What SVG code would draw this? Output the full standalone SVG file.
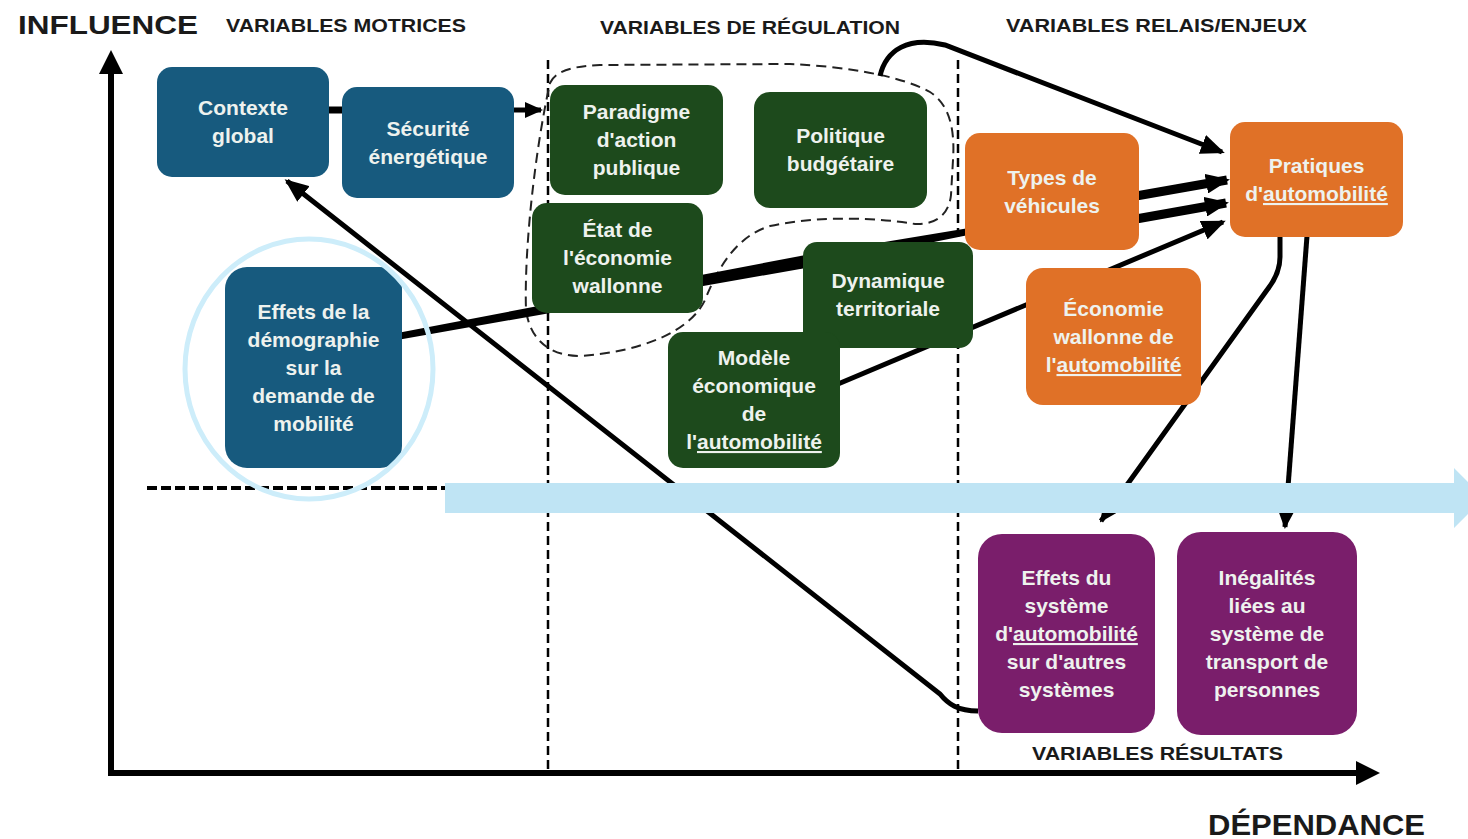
<svg xmlns="http://www.w3.org/2000/svg" width="1468" height="839" viewBox="0 0 1468 839">
<defs>
<style>
.t{font-family:"Liberation Sans",Arial,sans-serif;font-weight:bold;font-size:21px;text-anchor:middle;fill:#EEF2EE}
.h{font-family:"Liberation Sans",Arial,sans-serif;font-weight:bold;fill:#1a1a1a}
.blue{fill:#175A7E}
.green{fill:#1D4A1C}
.orange{fill:#E07127}
.purple{fill:#7A1E6B}
.ln{fill:none;stroke:#000;stroke-width:5;stroke-linecap:butt}
.sp{text-decoration:underline wavy #e04040}
</style>
<marker id="ah" markerUnits="userSpaceOnUse" markerWidth="24" markerHeight="20" refX="21" refY="10" orient="auto" viewBox="0 0 24 20">
<path d="M0,0 L24,10 L0,20 Z" fill="#000"/>
</marker>
<marker id="ahs" markerUnits="userSpaceOnUse" markerWidth="18" markerHeight="16" refX="16" refY="8" orient="auto" viewBox="0 0 18 16">
<path d="M0,0 L18,8 L0,16 Z" fill="#000"/>
</marker>
</defs>
<rect width="1468" height="839" fill="#fff"/>

<g id="axes">
<line x1="111" y1="775" x2="111" y2="70" stroke="#000" stroke-width="6"/>
<path d="M111,50 L99,74 L123,74 Z" fill="#000"/>
<line x1="108" y1="773" x2="1358" y2="773" stroke="#000" stroke-width="6"/>
<path d="M1380,773 L1356,761 L1356,785 Z" fill="#000"/>
<line x1="548" y1="60" x2="548" y2="772" stroke="#000" stroke-width="2.5" stroke-dasharray="9,5"/>
<line x1="958" y1="60" x2="958" y2="772" stroke="#000" stroke-width="2.5" stroke-dasharray="9,5"/>
<line x1="147" y1="488" x2="958" y2="488" stroke="#000" stroke-width="4" stroke-dasharray="10,4"/>
</g>

<g id="headers">
<text class="h" x="18" y="34" font-size="26" textLength="180" lengthAdjust="spacingAndGlyphs">INFLUENCE</text>
<text class="h" x="226" y="32" font-size="19" textLength="240" lengthAdjust="spacingAndGlyphs">VARIABLES MOTRICES</text>
<text class="h" x="600" y="34" font-size="19" textLength="300" lengthAdjust="spacingAndGlyphs">VARIABLES DE RÉGULATION</text>
<text class="h" x="1006" y="32" font-size="19" textLength="301" lengthAdjust="spacingAndGlyphs">VARIABLES RELAIS/ENJEUX</text>
<text class="h" x="1032" y="760" font-size="19" textLength="251" lengthAdjust="spacingAndGlyphs">VARIABLES RÉSULTATS</text>
<text class="h" x="1208" y="835" font-size="30" textLength="217" lengthAdjust="spacingAndGlyphs">DÉPENDANCE</text>
</g>

<g id="group-outline">
<path d="M550,83 C556,70 575,66 600,65 L790,64 C840,66 900,75 930,92 C950,105 955,130 953,160 L951,195 C949,215 935,225 915,224 C880,218 820,215 770,226 C740,235 720,262 705,300 C690,332 640,352 580,356 C550,356 530,340 526,310 C524,250 535,150 550,83 Z" fill="none" stroke="#222" stroke-width="2" stroke-dasharray="10,6"/>
</g>

<g id="connectors">
<line x1="326" y1="110" x2="345" y2="110" stroke="#000" stroke-width="7"/>
<line class="ln" x1="512" y1="110" x2="541" y2="110" marker-end="url(#ahs)"/>
<path class="ln" d="M880,76 C886,50 908,36 945,45 L1222,152" marker-end="url(#ah)"/>
<line x1="1136" y1="196" x2="1227" y2="180" stroke="#000" stroke-width="9" marker-end="url(#ah)"/>
<line x1="1136" y1="219" x2="1226" y2="203" stroke="#000" stroke-width="9" marker-end="url(#ah)"/>
<polygon points="400,332.5 803,255.5 966,228.5 966,235.5 803,268.5 400,339.5" fill="#000"/>
<line class="ln" x1="838" y1="384" x2="1223" y2="222" marker-end="url(#ah)"/>
<path class="ln" d="M978,711 C958,711 948,704 940,694 L287,181" marker-end="url(#ah)"/>
<path class="ln" d="M1280,236 L1280,257 C1280,270 1275,280 1267,290 L1101,521" marker-end="url(#ahs)"/>
<line class="ln" x1="1307" y1="236" x2="1285" y2="527" marker-end="url(#ahs)"/>
</g>

<g id="n-contexte"><rect class="blue" x="157" y="67" width="172" height="110" rx="15"/>
<text class="t" x="243" y="115">Contexte</text><text class="t" x="243" y="143">global</text></g>
<g id="n-securite"><rect class="blue" x="342" y="87" width="172" height="111" rx="15"/>
<text class="t" x="428" y="136">Sécurité</text><text class="t" x="428" y="164">énergétique</text></g>
<g id="n-demo"><rect class="blue" x="225" y="267" width="177" height="201" rx="22"/>
<text class="t" x="313.5" y="319">Effets de la</text><text class="t" x="313.5" y="347">démographie</text><text class="t" x="313.5" y="375">sur la</text><text class="t" x="313.5" y="403">demande de</text><text class="t" x="313.5" y="431">mobilité</text></g>

<g id="n-paradigme"><rect class="green" x="550" y="85" width="173" height="110" rx="15"/>
<text class="t" x="636.5" y="119">Paradigme</text><text class="t" x="636.5" y="147">d'action</text><text class="t" x="636.5" y="175">publique</text></g>
<g id="n-politique"><rect class="green" x="754" y="92" width="173" height="116" rx="16"/>
<text class="t" x="840.5" y="143">Politique</text><text class="t" x="840.5" y="171">budgétaire</text></g>
<g id="n-etat"><rect class="green" x="532" y="203" width="171" height="110" rx="15"/>
<text class="t" x="617.5" y="237">État de</text><text class="t" x="617.5" y="265">l'économie</text><text class="t" x="617.5" y="293">wallonne</text></g>
<g id="n-dynamique"><rect class="green" x="803" y="242" width="170" height="106" rx="14"/>
<text class="t" x="888" y="288">Dynamique</text><text class="t" x="888" y="316">territoriale</text></g>
<g id="n-modele"><rect class="green" x="668" y="332" width="172" height="136" rx="15"/>
<text class="t" x="754" y="365">Modèle</text><text class="t" x="754" y="393">économique</text><text class="t" x="754" y="421">de</text><text class="t" x="754" y="449">l'<tspan class="sp">automobilité</tspan></text></g>

<g id="n-types"><rect class="orange" x="965" y="133" width="174" height="117" rx="15"/>
<text class="t" x="1052" y="185">Types de</text><text class="t" x="1052" y="213">véhicules</text></g>
<g id="n-pratiques"><rect class="orange" x="1230" y="122" width="173" height="115" rx="15"/>
<text class="t" x="1316.5" y="173">Pratiques</text><text class="t" x="1316.5" y="201">d'<tspan class="sp">automobilité</tspan></text></g>
<g id="n-ecoauto"><rect class="orange" x="1026" y="268" width="175" height="137" rx="17"/>
<text class="t" x="1113.5" y="316">Économie</text><text class="t" x="1113.5" y="344">wallonne de</text><text class="t" x="1113.5" y="372">l'<tspan class="sp">automobilité</tspan></text></g>

<g id="n-effets-sys"><rect class="purple" x="978" y="534" width="177" height="199" rx="24"/>
<text class="t" x="1066.5" y="585">Effets du</text><text class="t" x="1066.5" y="613">système</text><text class="t" x="1066.5" y="641">d'<tspan class="sp">automobilité</tspan></text><text class="t" x="1066.5" y="669">sur d'autres</text><text class="t" x="1066.5" y="697">systèmes</text></g>
<g id="n-inegalites"><rect class="purple" x="1177" y="532" width="180" height="203" rx="24"/>
<text class="t" x="1267" y="585">Inégalités</text><text class="t" x="1267" y="613">liées au</text><text class="t" x="1267" y="641">système de</text><text class="t" x="1267" y="669">transport de</text><text class="t" x="1267" y="697">personnes</text></g>

<g id="highlight">
<ellipse cx="309" cy="369" rx="124" ry="130" fill="none" stroke="#CDEDFA" stroke-width="5"/>
<path d="M445,483 L1454,483 L1454,468 L1484,498 L1454,528 L1454,513 L445,513 Z" fill="#BFE4F4"/>
</g>
</svg>
